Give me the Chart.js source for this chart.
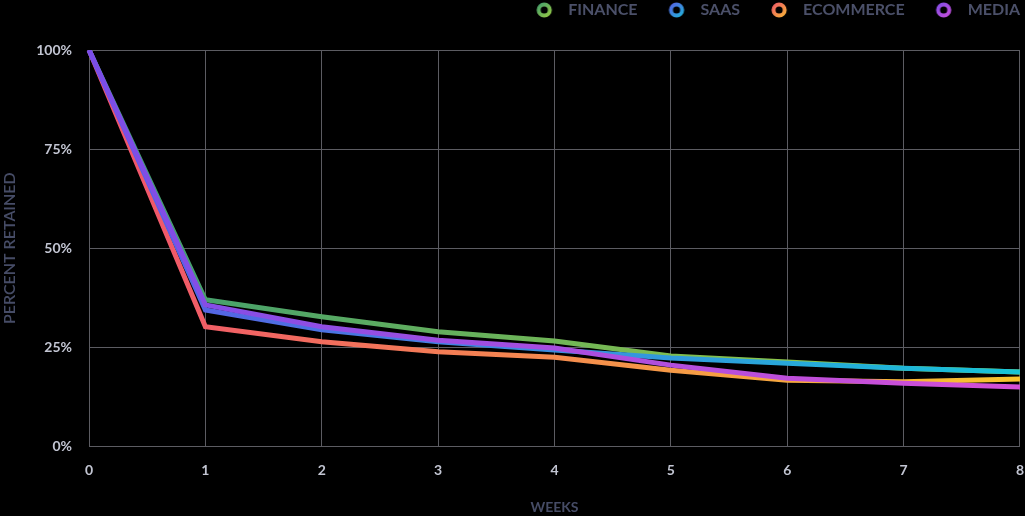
<!DOCTYPE html>
<html>
<head>
<meta charset="utf-8">
<script src="https://cdn.jsdelivr.net/npm/chart.js@4"></script>
<style>
  html, body { margin: 0; padding: 0; background: #000; }
  #chart { display: block; }
</style>
</head>
<body>
<canvas id="chart" width="1025" height="516"></canvas>
<script>
const weeks = ['0', '1', '2', '3', '4', '5', '6', '7', '8'];
const seriesNames = ['FINANCE', 'SAAS', 'ECOMMERCE', 'MEDIA'];
const finance = [100, 37, 32.7, 28.9, 26.6, 22.8, 21.3, 19.7, 18.8];
const saas = [100, 34.4, 29.4, 26.4, 24.3, 22.3, 21, 19.7, 18.8];
const ecommerce = [100, 30.2, 26.4, 23.9, 22.5, 19.2, 16.7, 16.3, 17];
const media = [100, 35.7, 30.2, 26.8, 24.8, 20.5, 17.2, 15.9, 15];
const yTicks = [0, 25, 50, 75, 100];

// gradient start/end per series
const colorStops = [
  ['#3a9a72', '#a6d13c'],
  ['#5d58e6', '#16c3d6'],
  ['#f0506e', '#f8c52e'],
  ['#7a4de8', '#d44fd6']
];

function lineGradient(i) {
  return function(context) {
    const chart = context.chart;
    const area = chart.chartArea;
    if (!area) return colorStops[i][0];
    const g = chart.ctx.createLinearGradient(area.left, 0, area.right, 0);
    g.addColorStop(0, colorStops[i][0]);
    g.addColorStop(1, colorStops[i][1]);
    return g;
  };
}

// ring marker for the legend, drawn off-centre so the gap to the text matches
function ringIcon(i) {
  const c = document.createElement('canvas');
  c.width = 53; c.height = 18;
  const x = c.getContext('2d');
  const g = x.createLinearGradient(30, 0, 46, 18);
  g.addColorStop(0, colorStops[i][0]);
  g.addColorStop(1, colorStops[i][1]);
  x.strokeStyle = g;
  x.lineWidth = 4;
  x.beginPath();
  x.arc(37, 9, 5.6, 0, Math.PI * 2);
  x.stroke();
  return c;
}

const legendSpacer = {
  id: 'legendSpacer',
  beforeInit(chart) {
    const fit = chart.legend.fit;
    chart.legend.fit = function() {
      fit.call(this);
      this.height += 22;
    };
  }
};

const seriesData = [finance, saas, ecommerce, media];
const drawOrder = [3, 1, 2, 0];

const datasets = seriesData.map((d, i) => ({
  label: seriesNames[i],
  data: d,
  borderColor: lineGradient(i),
  borderWidth: 5,
  pointRadius: 0,
  tension: 0,
  fill: false,
  order: drawOrder[i]
}));

new Chart(document.getElementById('chart'), {
  type: 'line',
  data: { labels: weeks, datasets: datasets },
  plugins: [legendSpacer],
  options: {
    responsive: false,
    animation: false,
    layout: { padding: { top: 0, right: 3, left: 0, bottom: 0 } },
    plugins: {
      tooltip: { enabled: false },
      legend: {
        position: 'top',
        align: 'end',
        labels: {
          usePointStyle: true,
          pointStyleWidth: 53,
          padding: 2,
          color: '#4b5069',
          font: { family: 'Lato', size: 16, weight: 'bold' },
          generateLabels: chart => chart.data.datasets.map((ds, i) => ({
            text: ds.label,
            fontColor: '#4b5069',
            pointStyle: ringIcon(i),
            datasetIndex: i,
            lineWidth: 0,
            hidden: false
          }))
        }
      }
    },
    scales: {
      x: {
        grid: { color: '#5c5c62', lineWidth: 1, drawTicks: true, tickLength: 15, tickColor: 'rgba(0,0,0,0)' },
        border: { color: '#5c5c62' },
        offset: false,
        ticks: {
          color: '#c2c5d2',
          font: { family: 'Lato', size: 14, weight: 'bold' },
          padding: 1,
          maxRotation: 0
        },
        title: {
          display: true,
          text: 'WEEKS',
          color: '#464c66',
          font: { family: 'Lato', size: 14, weight: 'bold' },
          padding: { top: 19, bottom: 0 }
        }
      },
      y: {
        min: 0,
        max: 100,
        afterBuildTicks: axis => { axis.ticks = yTicks.map(v => ({ value: v })); },
        grid: { color: '#5c5c62', lineWidth: 1, drawTicks: false },
        border: { color: '#5c5c62' },
        ticks: {
          color: '#c2c5d2',
          font: { family: 'Lato', size: 14, weight: 'bold' },
          padding: 17,
          callback: v => v + '%'
        },
        title: {
          display: true,
          text: 'PERCENT RETAINED',
          color: '#464c66',
          font: { family: 'Lato', size: 16, weight: '600' },
          padding: { top: 0, bottom: 0 }
        }
      }
    }
  }
});
</script>
</body>
</html>
